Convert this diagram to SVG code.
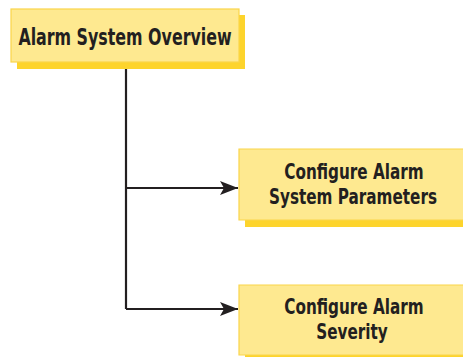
<svg xmlns="http://www.w3.org/2000/svg" width="463" height="357" viewBox="0 0 463 357">
  <defs>
    <style>
      .shadow { fill: #FDD42C; }
      .box { fill: #FEE990; }
      .edge { fill: none; stroke: #FAD54A; stroke-width: 1.2; }
      .label { font-family: "DejaVu Sans Condensed", "DejaVu Sans", sans-serif; font-stretch: condensed; font-weight: bold; fill: #231F20; text-anchor: middle; font-size: 22px; }
      .link { fill: none; stroke: #231F20; stroke-width: 2.2; }
    </style>
    <marker id="arrow" markerUnits="userSpaceOnUse" markerWidth="20" markerHeight="16" refX="18" refY="7" orient="auto">
      <path d="M0,0 L18,7 L0,14 L4,7 Z" fill="#231F20"/>
    </marker>
  </defs>

  <!-- connectors -->
  <g id="connectors">
    <path class="link" d="M126,62 V309"/>
    <path class="link" d="M126,188 H238" marker-end="url(#arrow)"/>
    <path class="link" d="M126,309 H238" marker-end="url(#arrow)"/>
  </g>

  <!-- root node -->
  <g id="overview">
    <rect class="shadow" x="17" y="15" width="228" height="54"/>
    <rect class="box" x="11" y="9" width="228" height="53"/>
    <rect class="edge" x="11" y="9" width="228" height="53"/>
    <text class="label" transform="translate(125,44.5) scale(0.766,1)" style="font-size:23px">Alarm System Overview</text>
  </g>

  <!-- child nodes: boxes run on past the right edge, so no right border -->
  <g id="parameters">
    <rect class="shadow" x="245" y="155" width="218" height="72"/>
    <rect class="box" x="239" y="149" width="224" height="71"/>
    <path class="edge" d="M463,149 H239 V220 H463"/>
    <text class="label" transform="translate(354,178.5) scale(0.77,1)">Configure Alarm</text>
    <text class="label" transform="translate(353,203.5) scale(0.77,1)">System Parameters</text>
  </g>

  <g id="severity">
    <rect class="shadow" x="245" y="291" width="218" height="66"/>
    <rect class="box" x="239" y="285" width="224" height="70"/>
    <path class="edge" d="M463,285 H239 V355 H463"/>
    <text class="label" transform="translate(354,313.5) scale(0.77,1)">Configure Alarm</text>
    <text class="label" transform="translate(352,338.5) scale(0.77,1)">Severity</text>
  </g>
</svg>
